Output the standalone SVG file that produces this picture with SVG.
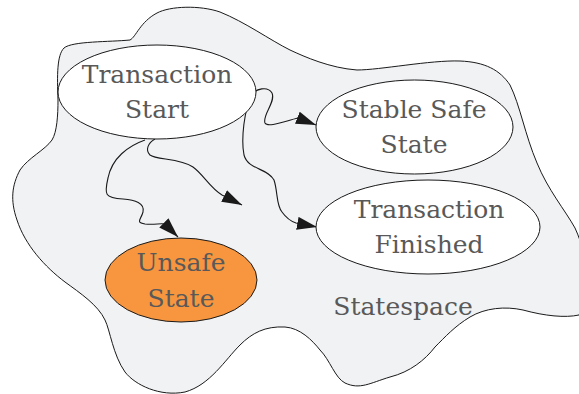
<svg xmlns="http://www.w3.org/2000/svg" width="579" height="394" viewBox="0 0 579 394">
  <style>
    .space { fill: #f1f2f4; stroke: #1a1a1a; stroke-width: 1; }
    .state { fill: #ffffff; stroke: #1a1a1a; stroke-width: 1; }
    .unsafe { fill: #f7963f; stroke: #1a1a1a; stroke-width: 1; }
    .lbl { font-family: "DejaVu Serif", "Liberation Serif", serif; font-size: 25px; fill: #595959; text-anchor: middle; }
    .edge { fill: none; stroke: #1a1a1a; stroke-width: 1.1; marker-end: url(#head); }
  </style>
  <defs>
    <marker id="head" viewBox="0 0 20 13" refX="20" refY="6.5" markerWidth="20" markerHeight="13" markerUnits="userSpaceOnUse" orient="auto">
      <path d="M0,0 L20,6.5 L0,13 Z" fill="#1a1a1a"/>
    </marker>
  </defs>

  <!-- state space region -->
  <g id="statespace">
    <path class="space" d="M58,100 C57,75 57,55 64,48 C72,41 110,42 130,40 C136,37 140,22 157,13 C170,6 200,5 220,12 C245,22 270,40 290,50 C305,57 330,68 357,70 C380,70 430,60 460,61 C485,62 500,70 510,85 C520,105 525,135 537,163 C548,190 565,210 575,228 C590,260 590,300 579,315 C565,318 545,316 523,310 C505,306 485,308 470,317 C455,326 445,337 435,347 C425,360 410,372 390,377 C370,383 360,390 345,383 C335,378 330,360 320,350 C312,340 300,328 285,327 C265,326 252,333 240,345 C225,360 210,385 185,392 C160,397 135,385 125,372 C113,355 110,330 105,320 C98,305 80,293 65,282 C45,267 25,245 17,220 C10,200 12,185 20,170 C28,158 45,150 52,140 C57,132 58,115 58,100 Z"/>
    <text class="lbl" x="403" y="315">Statespace</text>
  </g>

  <!-- transitions -->
  <g id="connectors">
    <path class="edge" d="M250,96 C256,88 268,86 272,93 C276,102 262,115 265,123 C268,128 285,121 298,118 L316,125"/>
    <path class="edge" d="M252,97 C244,108 241,140 244,155 C248,170 268,168 274,180 C278,192 276,205 282,212 C287,219 293,222 296,223 L317,227"/>
    <path class="edge" d="M155,139 C148,143 145,150 150,155 C156,160 180,158 193,167 C203,174 210,188 222,195 L242,205"/>
    <path class="edge" d="M145,140 C128,146 112,158 108,178 C104,195 105,198 123,199 C135,200 145,203 143,212 C141,220 135,222 145,224 C155,225 160,223 165,224 L178,237"/>
  </g>

  <g id="transaction-start">
    <ellipse class="state" cx="157" cy="92" rx="99" ry="47"/>
    <text class="lbl" x="157" y="83">Transaction</text>
    <text class="lbl" x="157" y="118">Start</text>
  </g>

  <g id="stable-safe-state">
    <ellipse class="state" cx="414.5" cy="127" rx="98.5" ry="47"/>
    <text class="lbl" x="414" y="118">Stable Safe</text>
    <text class="lbl" x="414" y="153">State</text>
  </g>

  <g id="transaction-finished">
    <ellipse class="state" cx="428" cy="227" rx="112" ry="47"/>
    <text class="lbl" x="429" y="218">Transaction</text>
    <text class="lbl" x="429" y="253">Finished</text>
  </g>

  <g id="unsafe-state">
    <ellipse class="unsafe" cx="181" cy="280" rx="76" ry="42"/>
    <text class="lbl" x="181" y="271">Unsafe</text>
    <text class="lbl" x="181" y="307">State</text>
  </g>
</svg>
